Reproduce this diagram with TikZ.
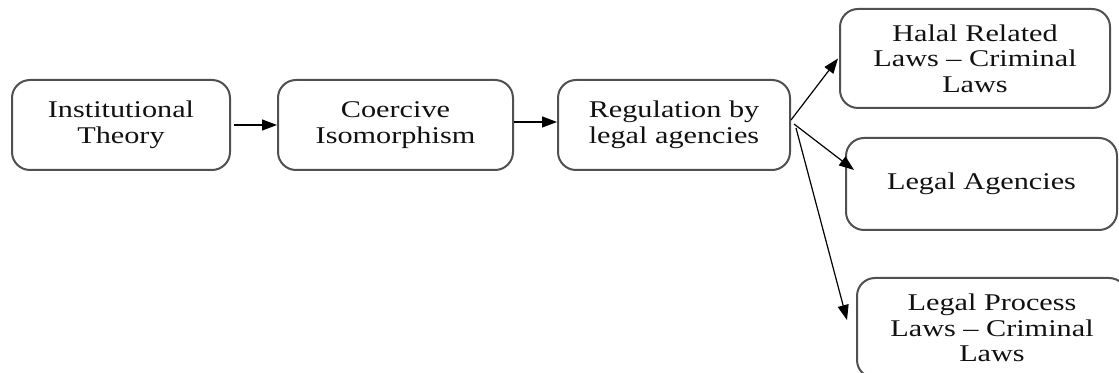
\documentclass[tikz,border=0pt]{standalone}
\usepackage{fontspec}
\setmainfont[FakeStretch=1.26]{Liberation Serif}
\usepackage{xcolor}
\usepackage{tikz}
\usetikzlibrary{calc,arrows.meta}
\definecolor{edge}{HTML}{505050}
\definecolor{ink}{HTML}{111111}
\tikzset{
  box/.style={draw=edge, line width=1pt, rounded corners=9pt, align=center,
    inner sep=0pt, text=ink, font=\fontsize{12}{12.8}\selectfont},
  arr/.style={draw=black, line width=0.6pt, -{Triangle[length=7.5pt,width=5.5pt]}}
}
\begin{document}
\begin{tikzpicture}[x=0.5pt,y=-0.5pt]
  \useasboundingbox (0,0) rectangle (1119,373);

  \node[box, minimum width=109pt, minimum height=45pt] (inst) at (121,125)
    {Institutional\\Theory};
  \node[box, minimum width=117.5pt, minimum height=45pt] (coer) at (395.5,125)
    {Coercive\\Isomorphism};
  \node[box, minimum width=116pt, minimum height=45pt] (regu) at (674,125)
    {Regulation by\\legal agencies};
  \node[box, minimum width=135pt, minimum height=49.5pt] (halal) at (975,58.5)
    {Halal Related\\Laws -- Criminal\\Laws};
  \node[box, minimum width=135.5pt, minimum height=46pt] (agen) at (981.5,184)
    {Legal Agencies};
  \node[box, minimum width=135pt, minimum height=50pt] (proc) at (992,328)
    {Legal Process\\Laws -- Criminal\\Laws};

  \draw[arr] ($(inst.east)+(3,0)$) -- (coer.west);
  \draw[arr] ($(coer.east)+(0,-3)$) -- ($(regu.west)+(0,-3)$);

  \draw[arr] ($(regu.east)+(0,-5)$) -- ($(halal.west)+(-1,0)$);
  \draw[arr] ($(regu.east)+(3,-1)$) -- ($(agen.west)+(9,-14)$);
  \draw[arr] ($(regu.east)+(5,3)$) -- ($(proc.west)+(-9,-8)$);
\end{tikzpicture}
\end{document}
